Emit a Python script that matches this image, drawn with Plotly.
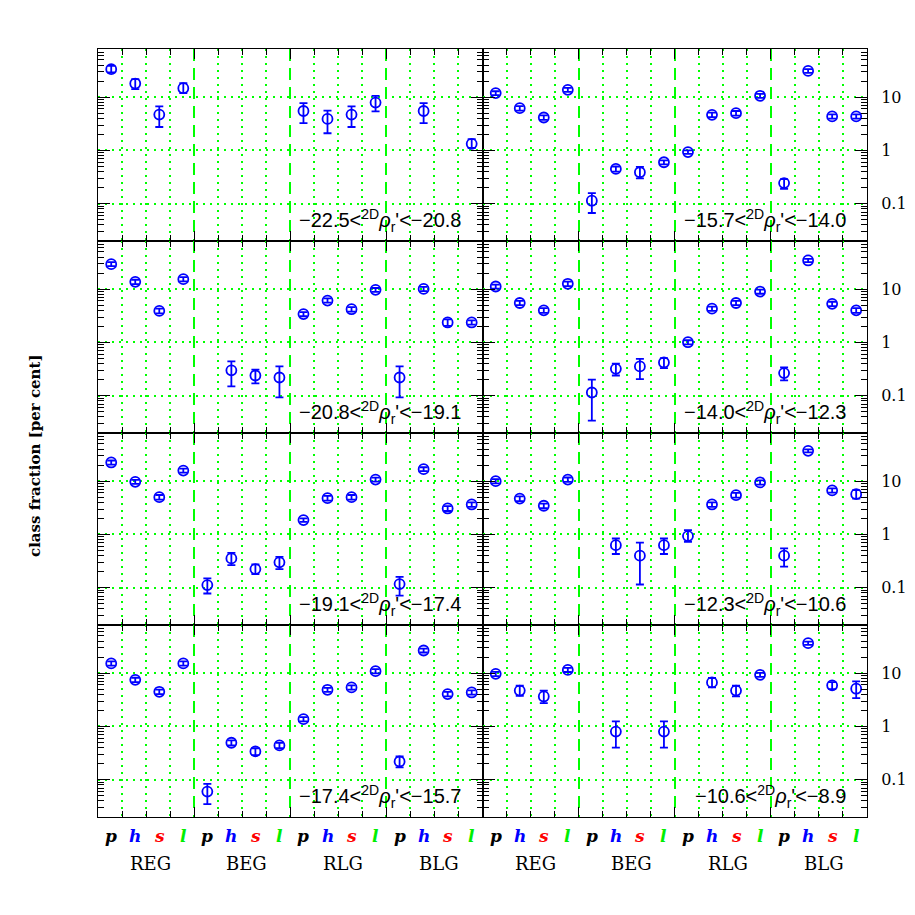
import numpy as np
import plotly.graph_objects as go
from plotly.subplots import make_subplots

# classes along x (4 groups x 4 classes)
groups = ['REG', 'BEG', 'RLG', 'BLG']
classes = ['p', 'h', 's', 'l']
class_colors = ['black', 'blue', 'red', '#00ee00']

# magnitude bins, left column top->bottom then right column top->bottom
bin_labels = [
    ('−22.5', '−20.8'), ('−20.8', '−19.1'), ('−19.1', '−17.4'), ('−17.4', '−15.7'),
    ('−15.7', '−14.0'), ('−14.0', '−12.3'), ('−12.3', '−10.6'), ('−10.6', '−8.9'),
]

# class fraction [per cent], upper and lower end of the error bar
frac_1 = [33.5, 18.0, 4.7, 14.7, None, None, None, None, 5.5, 3.9, 4.7, 7.9, None, 5.5, None, 1.33]
upper_1 = [38.7, 21.8, 6.7, 18.3, None, None, None, None, 7.7, 5.6, 6.7, 10.6, None, 7.7, None, 1.63]
lower_1 = [29.0, 14.1, 2.75, 11.9, None, None, None, None, 3.25, 2.1, 2.75, 5.4, None, 3.25, None, 1.11]

frac_2 = [29.4, 13.7, 3.9, 15.4, None, 0.30, 0.24, 0.22, 3.4, 6.1, 4.2, 9.7, 0.22, 10.1, 2.37, 2.37]
upper_2 = [32.0, 15.0, 4.3, 16.8, None, 0.44, 0.31, 0.355, 3.7, 6.7, 4.6, 10.5, 0.355, 11.0, 2.7, 2.6]
lower_2 = [27.0, 12.4, 3.5, 14.0, None, 0.15, 0.17, 0.093, 3.1, 5.6, 3.8, 8.9, 0.093, 9.2, 2.05, 2.15]

frac_3 = [22.4, 9.7, 5.0, 15.8, 0.112, 0.355, 0.224, 0.30, 1.86, 4.8, 5.0, 10.7, 0.117, 16.8, 3.07, 3.65]
upper_3 = [24.4, 10.6, 5.5, 17.2, 0.15, 0.45, 0.274, 0.38, 2.0, 5.3, 5.5, 11.6, 0.16, 18.2, 3.4, 4.0]
lower_3 = [20.4, 8.9, 4.5, 14.4, 0.078, 0.266, 0.18, 0.224, 1.72, 4.3, 4.5, 9.8, 0.071, 15.4, 2.75, 3.3]

frac_4 = [15.2, 7.5, 4.47, 15.2, 0.06, 0.494, 0.34, 0.44, 1.37, 4.87, 5.39, 10.9, 0.22, 26.6, 4.04, 4.34]
upper_4 = [16.6, 8.2, 4.9, 16.6, 0.084, 0.55, 0.39, 0.49, 1.5, 5.3, 5.9, 11.9, 0.274, 28.8, 4.45, 4.75]
lower_4 = [13.8, 6.8, 4.05, 13.8, 0.035, 0.44, 0.29, 0.39, 1.24, 4.45, 4.9, 9.9, 0.17, 24.4, 3.65, 3.95]

frac_5 = [11.9, 6.2, 4.15, 13.7, 0.114, 0.45, 0.39, 0.6, 0.93, 4.65, 5.0, 10.6, 0.244, 31.0, 4.35, 4.35]
upper_5 = [12.9, 6.8, 4.55, 14.9, 0.158, 0.5, 0.49, 0.65, 1.0, 5.1, 5.5, 11.5, 0.29, 33.5, 4.75, 4.75]
lower_5 = [10.9, 5.6, 3.75, 12.5, 0.067, 0.4, 0.30, 0.55, 0.86, 4.2, 4.5, 9.7, 0.19, 28.5, 3.95, 3.95]

frac_6 = [11.2, 5.5, 4.0, 12.6, 0.115, 0.32, 0.355, 0.42, 1.01, 4.3, 5.5, 9.0, 0.266, 34.5, 5.3, 4.0]
upper_6 = [12.2, 6.0, 4.4, 13.8, 0.2, 0.4, 0.49, 0.51, 1.1, 4.7, 6.0, 9.8, 0.34, 37.0, 5.8, 4.4]
lower_6 = [10.2, 5.0, 3.6, 11.4, 0.034, 0.24, 0.205, 0.33, 0.92, 3.9, 5.0, 8.2, 0.194, 32.0, 4.8, 3.6]

frac_7 = [10.0, 4.7, 3.45, 10.7, None, 0.63, 0.40, 0.63, 0.93, 3.65, 5.45, 9.45, 0.40, 37.0, 6.7, 5.7]
upper_7 = [10.9, 5.2, 3.8, 11.7, None, 0.84, 0.70, 0.84, 1.2, 4.0, 6.0, 10.3, 0.546, 39.5, 7.3, 6.8]
lower_7 = [9.1, 4.2, 3.1, 9.7, None, 0.43, 0.115, 0.43, 0.73, 3.3, 4.9, 8.6, 0.248, 34.5, 6.1, 4.7]

frac_8 = [9.7, 4.7, 3.65, 11.5, None, 0.8, None, 0.8, None, 6.7, 4.7, 9.3, None, 36.5, 5.9, 5.1]
upper_8 = [10.6, 5.8, 4.7, 12.5, None, 1.24, None, 1.24, None, 8.1, 5.8, 10.1, None, 39.0, 6.8, 7.0]
lower_8 = [8.8, 3.76, 2.74, 10.5, None, 0.40, None, 0.40, None, 5.4, 3.65, 8.5, None, 34.0, 5.0, 3.4]

fracs = [frac_1, frac_2, frac_3, frac_4, frac_5, frac_6, frac_7, frac_8]
uppers = [upper_1, upper_2, upper_3, upper_4, upper_5, upper_6, upper_7, upper_8]
lowers = [lower_1, lower_2, lower_3, lower_4, lower_5, lower_6, lower_7, lower_8]

GREEN = '#00ff00'
SERIF = 'DejaVu Serif'

# page has an 8px body margin, plot frame should land at x 98..867, y 49..817
L, T, R, B = 90, 41, 859, 809
W = H = 915

fig = make_subplots(rows=4, cols=2, horizontal_spacing=0, vertical_spacing=0)

xpos = np.arange(16) + 0.55

for k in range(8):
    col = k // 4 + 1
    row = k % 4 + 1
    v = fracs[k]
    x, y, ep, em = [], [], [], []
    for i in range(16):
        if v[i] is None:
            continue
        x.append(xpos[i])
        y.append(v[i])
        ep.append(uppers[k][i] - v[i])
        em.append(v[i] - lowers[k][i])
    fig.add_trace(go.Scatter(
        x=x, y=y, mode='markers',
        marker=dict(symbol='circle-open', size=10, color='blue', line=dict(width=1.8, color='blue')),
        error_y=dict(type='data', symmetric=False, array=ep, arrayminus=em,
                     color='blue', thickness=1.8, width=4),
        showlegend=False, hoverinfo='x+y'
    ), row=row, col=col)

    n = (row - 1) * 2 + col
    suffix = '' if n == 1 else str(n)
    lo_txt, hi_txt = bin_labels[k]
    fig.add_annotation(
        text=f'{lo_txt}&lt;<sup>2D</sup><i>ρ</i><sub>r</sub>\'&lt;{hi_txt}',
        xref=f'x{suffix} domain', yref=f'y{suffix} domain',
        x=0.95, y=0.02, xanchor='right', yanchor='bottom', showarrow=False,
        font=dict(family='Liberation Sans', size=20, color='black')
    )

fig.update_xaxes(
    range=[0, 16], tick0=0, dtick=4, ticks='inside', ticklen=10, tickwidth=1.2,
    tickcolor='black', showticklabels=False, mirror='allticks', showline=True,
    linecolor='black', linewidth=1, zeroline=False,
    showgrid=True, gridcolor=GREEN, gridwidth=1.8, griddash='12px,7px',
    minor=dict(tick0=0, dtick=1, ticks='inside', ticklen=6, tickwidth=1.2, tickcolor='black',
               showgrid=True, gridcolor=GREEN, gridwidth=2, griddash='2px,5px')
)

fig.update_yaxes(
    type='log', range=[np.log10(0.02), np.log10(80)], dtick=1,
    ticks='inside', ticklen=12, tickwidth=1.2, tickcolor='black',
    mirror='allticks', showline=True, linecolor='black', linewidth=1, zeroline=False,
    showgrid=True, gridcolor=GREEN, gridwidth=2, griddash='2px,5px',
    minor=dict(dtick='D1', ticks='inside', ticklen=6, tickwidth=1, tickcolor='black', showgrid=False),
    showticklabels=False
)
fig.update_yaxes(col=2, side='right', showticklabels=True, ticklabelstandoff=10,
                 tickfont=dict(family=SERIF, size=16, color='black'))

plot_h = B - T
plot_w = R - L

# class labels and group labels under the bottom row
for dom_suffix in ('7', '8'):
    for g in range(4):
        for j in range(4):
            i = g * 4 + j
            fig.add_annotation(
                text=classes[j], x=xpos[i], xref=f'x{dom_suffix}',
                y=-19 / plot_h, yref='paper', yanchor='middle', showarrow=False,
                font=dict(family=SERIF, size=17, color=class_colors[j],
                          weight='bold', style='italic')
            )
        fig.add_annotation(
            text=groups[g], x=g * 4 + 2.2, xref=f'x{dom_suffix}',
            y=-46 / plot_h, yref='paper', yanchor='middle', showarrow=False,
            font=dict(family=SERIF, size=18, color='black')
        )

fig.add_annotation(
    text='class fraction [per cent]', textangle=-90,
    x=(35 - 8 - L) / plot_w, xref='paper', xanchor='center',
    y=(B - (456 - 8)) / plot_h, yref='paper', yanchor='middle',
    showarrow=False, font=dict(family=SERIF, size=15, color='black', weight='bold')
)

fig.update_layout(
    width=W, height=H,
    margin=dict(l=L, r=W - R, t=T, b=H - B),
    plot_bgcolor='white', paper_bgcolor='white',
    showlegend=False
)

fig.write_html('out.html')
